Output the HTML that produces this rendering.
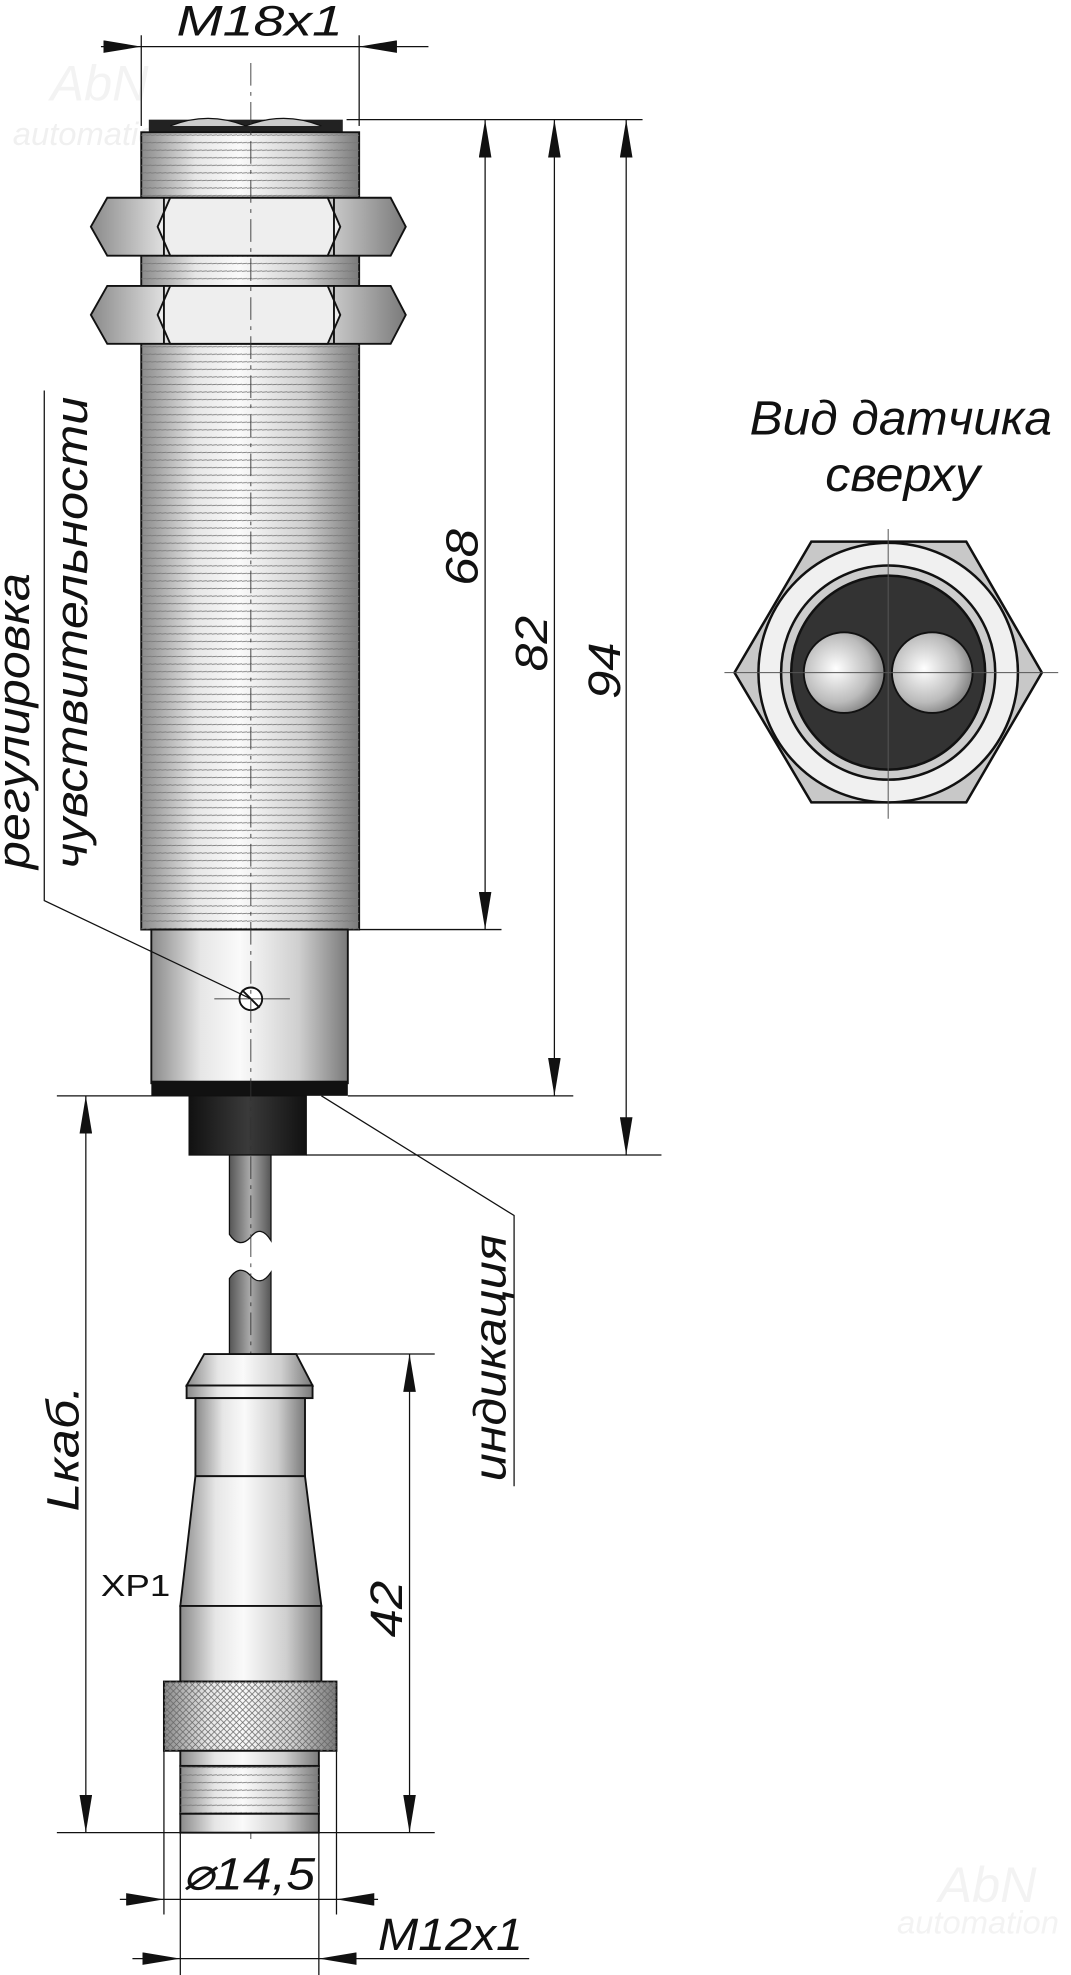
<!DOCTYPE html>
<html><head><meta charset="utf-8"><style>
html,body{margin:0;padding:0;background:#fff;}
svg{display:block}
text{font-family:"Liberation Sans",sans-serif;font-style:italic;fill:#111}
</style></head><body>
<svg width="1071" height="1975" viewBox="0 0 850 1568" xmlns="http://www.w3.org/2000/svg">
<defs>
<linearGradient id="cyl" x1="0" x2="1" y1="0" y2="0">
<stop offset="0" stop-color="#8a8a8a"/><stop offset="0.25" stop-color="#e6e6e6"/><stop offset="0.45" stop-color="#fafafa"/><stop offset="0.75" stop-color="#cfcfcf"/><stop offset="1" stop-color="#7a7a7a"/></linearGradient>
<linearGradient id="dark" x1="0" x2="1"><stop offset="0" stop-color="#111"/><stop offset="0.5" stop-color="#3a3a3a"/><stop offset="1" stop-color="#111"/></linearGradient>
<linearGradient id="cab" x1="0" x2="1"><stop offset="0" stop-color="#555"/><stop offset="0.5" stop-color="#aaa"/><stop offset="1" stop-color="#555"/></linearGradient>
<radialGradient id="ball" cx="0.4" cy="0.45" r="0.7"><stop offset="0" stop-color="#fff"/><stop offset="0.6" stop-color="#bbb"/><stop offset="1" stop-color="#666"/></radialGradient>
<pattern id="thr" width="4" height="6" patternUnits="userSpaceOnUse"><rect width="4" height="6" fill="none"/><line x1="0" y1="5.5" x2="4" y2="5" stroke="#777" stroke-width="0.7"/></pattern>
<pattern id="knurl" width="5" height="5" patternUnits="userSpaceOnUse"><path d="M0 0L5 5M5 0L0 5" stroke="#666" stroke-width="0.6"/></pattern>
<marker id="ar" viewBox="0 0 30 10" refX="30" refY="5" markerWidth="30" markerHeight="10" markerUnits="userSpaceOnUse" orient="auto-start-reverse"><path d="M0 0L30 5L0 10z" fill="#111"/></marker>
</defs>
<text x="10" y="115" font-size="26" style="fill:#f0f0f0">automation</text>
<text x="40" y="80" font-size="40" style="fill:#f3f3f3">AbN</text>
<text x="745" y="1510" font-size="40" style="fill:#f3f3f3">AbN</text>
<text x="712" y="1535" font-size="26" style="fill:#f3f3f3">automation</text>

<g stroke="#111" stroke-width="1" fill="none">
<line x1="112" y1="28" x2="112" y2="100"/><line x1="285" y1="28" x2="285" y2="100"/>
<line x1="80" y1="37" x2="112" y2="37" marker-end="url(#ar)"/>
<line x1="340" y1="37" x2="285" y2="37" marker-end="url(#ar)"/>
<line x1="112" y1="37" x2="285" y2="37"/>
</g>
<text x="140" y="28" font-size="34" textLength="132" lengthAdjust="spacingAndGlyphs">M18x1</text>

<rect x="118" y="95" width="154" height="12" fill="#222"/>
<path d="M135 100 Q165 88 195 100 Q225 88 255 100" fill="#ccc" stroke="#111"/>
<rect x="112" y="105" width="173" height="633" fill="url(#cyl)" stroke="#111" stroke-width="1.5"/>
<rect x="112" y="105" width="173" height="633" fill="url(#thr)"/>
<g stroke="#111" stroke-width="1.5">
<path d="M72 180 L85 157 L310 157 L322 180 L310 203 L85 203Z" fill="url(#cyl)"/>
<path d="M135 157 L260 157 L270 180 L260 203 L135 203 L125 180Z" fill="#eee"/>
<line x1="130" y1="157" x2="130" y2="203"/><line x1="265" y1="157" x2="265" y2="203"/>
<path d="M72 250 L85 227 L310 227 L322 250 L310 273 L85 273Z" fill="url(#cyl)"/>
<path d="M135 227 L260 227 L270 250 L260 273 L135 273 L125 250Z" fill="#eee"/>
<line x1="130" y1="227" x2="130" y2="273"/><line x1="265" y1="227" x2="265" y2="273"/>
</g>
<rect x="120" y="738" width="156" height="122" fill="url(#cyl)" stroke="#111" stroke-width="1.5"/>
<rect x="120" y="858" width="156" height="12" fill="#111"/>
<rect x="150" y="870" width="93" height="47" fill="url(#dark)" stroke="#111"/>
<circle cx="199" cy="793" r="9" fill="#fff" stroke="#111" stroke-width="1.5"/>
<line x1="192" y1="786" x2="206" y2="800" stroke="#111" stroke-width="1.5"/>
<line x1="170" y1="793" x2="230" y2="793" stroke="#111" stroke-width="0.6"/>
<path d="M182 917 V980 Q190 992 199 982 Q207 972 215 985 V917Z" fill="url(#cab)" stroke="#111"/>
<path d="M182 1075 V1015 Q190 1003 199 1013 Q207 1022 215 1010 V1075Z" fill="url(#cab)" stroke="#111"/>
<line x1="199" y1="50" x2="199" y2="1460" stroke="#333" stroke-width="0.7" stroke-dasharray="18,5,3,5"/>
<g stroke="#111" stroke-width="1.5">
<path d="M162 1075 L235 1075 L248 1100 L148 1100Z" fill="url(#cyl)"/>
<rect x="148" y="1100" width="100" height="10" fill="url(#cyl)"/>
<rect x="155" y="1110" width="87" height="62" fill="url(#cyl)"/>
<path d="M155 1172 L242 1172 L255 1275 L143 1275Z" fill="url(#cyl)"/>
<rect x="143" y="1275" width="112" height="60" fill="url(#cyl)"/>
<rect x="130" y="1335" width="137" height="55" fill="url(#cyl)"/>
<rect x="130" y="1335" width="137" height="55" fill="url(#knurl)" stroke="none"/>
<rect x="143" y="1390" width="110" height="12" fill="url(#cyl)"/>
<rect x="143" y="1402" width="110" height="38" fill="url(#cyl)"/>
<rect x="143" y="1402" width="110" height="38" fill="url(#thr)" stroke="none"/>
<rect x="143" y="1440" width="110" height="15" fill="url(#cyl)"/>
</g>
<text x="80" y="1267" font-size="24" textLength="55" lengthAdjust="spacingAndGlyphs" style="font-style:normal">XP1</text>

<g stroke="#111" stroke-width="1" fill="none">
<line x1="275" y1="95" x2="510" y2="95"/>
<line x1="285" y1="738" x2="398" y2="738"/>
<line x1="276" y1="870" x2="455" y2="870"/>
<line x1="243" y1="917" x2="525" y2="917"/>
<line x1="385" y1="95" x2="385" y2="738" marker-start="url(#ar)" marker-end="url(#ar)"/>
<line x1="440" y1="95" x2="440" y2="870" marker-start="url(#ar)" marker-end="url(#ar)"/>
<line x1="497" y1="95" x2="497" y2="917" marker-start="url(#ar)" marker-end="url(#ar)"/>
<line x1="45" y1="870" x2="150" y2="870"/>
<line x1="45" y1="1455" x2="143" y2="1455"/>
<line x1="68" y1="870" x2="68" y2="1455" marker-start="url(#ar)" marker-end="url(#ar)"/>
<line x1="210" y1="1075" x2="345" y2="1075"/>
<line x1="253" y1="1455" x2="345" y2="1455"/>
<line x1="325" y1="1075" x2="325" y2="1455" marker-start="url(#ar)" marker-end="url(#ar)"/>
<line x1="130" y1="1390" x2="130" y2="1520"/><line x1="267" y1="1390" x2="267" y2="1520"/>
<line x1="95" y1="1508" x2="130" y2="1508" marker-end="url(#ar)"/>
<line x1="300" y1="1508" x2="267" y2="1508" marker-end="url(#ar)"/>
<line x1="130" y1="1508" x2="267" y2="1508"/>
<line x1="143" y1="1455" x2="143" y2="1568"/><line x1="253" y1="1455" x2="253" y2="1568"/>
<line x1="105" y1="1555" x2="143" y2="1555" marker-end="url(#ar)"/>
<line x1="420" y1="1555" x2="253" y2="1555" marker-end="url(#ar)"/>
<line x1="143" y1="1555" x2="253" y2="1555"/>
<polyline points="199,793 35,715 35,310"/>
<polyline points="255,870 408,965 408,1180"/>
</g>
<text transform="translate(379,465) rotate(-90)" font-size="36" textLength="45" lengthAdjust="spacingAndGlyphs">68</text>
<text transform="translate(434,533) rotate(-90)" font-size="36" textLength="44" lengthAdjust="spacingAndGlyphs">82</text>
<text transform="translate(492,555) rotate(-90)" font-size="36" textLength="45" lengthAdjust="spacingAndGlyphs">94</text>
<text transform="translate(62,1200) rotate(-90)" font-size="36" textLength="100" lengthAdjust="spacingAndGlyphs">Lкаб.</text>
<text transform="translate(319,1300) rotate(-90)" font-size="36" textLength="45" lengthAdjust="spacingAndGlyphs">42</text>
<text transform="translate(23,690) rotate(-90)" font-size="36" textLength="235" lengthAdjust="spacingAndGlyphs">регулировка</text>
<text transform="translate(69,690) rotate(-90)" font-size="36" textLength="375" lengthAdjust="spacingAndGlyphs">чувствительности</text>
<text transform="translate(401,1176) rotate(-90)" font-size="36" textLength="196" lengthAdjust="spacingAndGlyphs">индикация</text>
<text x="145" y="1500" font-size="36" textLength="105" lengthAdjust="spacingAndGlyphs">⌀14,5</text>
<text x="300" y="1548" font-size="36" textLength="115" lengthAdjust="spacingAndGlyphs">M12x1</text>

<text x="595" y="345" font-size="38" textLength="240" lengthAdjust="spacingAndGlyphs">Вид датчика</text>
<text x="655" y="390" font-size="38" textLength="123" lengthAdjust="spacingAndGlyphs">сверху</text>
<g stroke="#111" stroke-width="2">
<path d="M583 534 L644 430 L767 430 L827 534 L767 637 L644 637Z" fill="#c8c8c8"/>
<circle cx="705" cy="534" r="103" fill="#f0f0f0"/>
<circle cx="705" cy="534" r="85" fill="#ccc"/>
<circle cx="705" cy="534" r="77" fill="#333"/>
<circle cx="670" cy="534" r="32" fill="url(#ball)" stroke-width="1.5"/>
<circle cx="740" cy="534" r="32" fill="url(#ball)" stroke-width="1.5"/>
</g>
<line x1="575" y1="534" x2="840" y2="534" stroke="#555" stroke-width="0.8"/>
<line x1="705" y1="420" x2="705" y2="650" stroke="#555" stroke-width="0.8"/>
</svg>
</body></html>
